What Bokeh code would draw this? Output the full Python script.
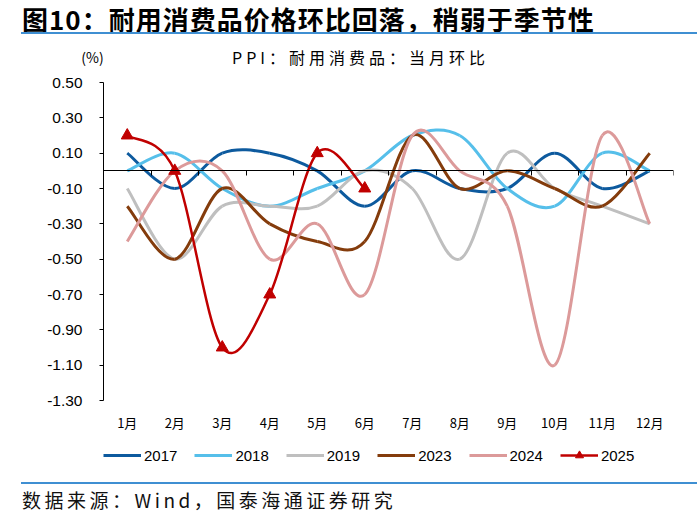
from bokeh.plotting import figure
from bokeh.layouts import column
from bokeh.models import (ColumnDataSource, FixedTicker, LinearAxis, Legend, LegendItem,
                          Range1d, NumeralTickFormatter, Div)
from bokeh.embed import file_html
from bokeh.resources import INLINE

months = ["1月", "2月", "3月", "4月", "5月", "6月", "7月", "8月", "9月", "10月", "11月", "12月"]
month_pos = [1, 2, 3, 4, 5, 6, 7, 8, 9, 10, 11, 12]
y_ticks = [0.5, 0.3, 0.1, -0.1, -0.3, -0.5, -0.7, -0.9, -1.1, -1.3]
sep_ticks = [0.5, 1.5, 2.5, 3.5, 4.5, 5.5, 6.5, 7.5, 8.5, 9.5, 10.5, 11.5, 12.5]
Y_TOP, Y_BOTTOM = 0.5, -1.3

y2017 = [0.1, -0.1, 0.1, 0.1, 0.0, -0.2, 0.0, -0.1, -0.1, 0.1, -0.1, 0.0]
y2018 = [0.0, 0.1, -0.1, -0.2, -0.1, 0.0, 0.2, 0.2, -0.1, -0.2, 0.1, 0.0]
y2019 = [-0.1, -0.5, -0.2, -0.2, -0.2, 0.0, -0.1, -0.5, 0.1, -0.1, -0.2, -0.3]
y2023 = [-0.2, -0.5, -0.1, -0.3, -0.4, -0.4, 0.2, -0.1, 0.0, -0.1, -0.2, 0.1]
y2024 = [-0.4, 0.0, 0.0, -0.5, -0.3, -0.7, 0.2, 0.0, -0.2, -1.1, 0.2, -0.3]
y2025 = [0.2, 0.0, -1.0, -0.7, 0.1, -0.1]

series = [
    ("2017", y2017, "#0d5a9e", 3),
    ("2018", y2018, "#56bfea", 3),
    ("2019", y2019, "#bfbfbf", 3),
    ("2023", y2023, "#843c0c", 3),
    ("2024", y2024, "#dc9a9a", 3),
    ("2025", y2025, "#c00000", 2.5),
]

title_text = "图10：耐用消费品价格环比回落，稍弱于季节性"
subtitle_text = "PPI：耐用消费品：当月环比"
unit_text = "(%)"
source_text = "数据来源：Wind，国泰海通证券研究"

RULE = "#3f8fd2"
FONT = "'Noto Sans CJK SC', sans-serif"

# layout geometry (pixels)
CHART_H = 318          # pixel height of the value axis (0.50 .. -1.30)
FRAME_H = 388          # frame also holds month labels and legend
MONTH_AXIS_PX = 345    # month label axis line, px below frame top
px_per_unit = CHART_H / (Y_TOP - Y_BOTTOM)
y_lo = Y_TOP - FRAME_H / px_per_unit
month_axis_y = Y_TOP - MONTH_AXIS_PX / px_per_unit


def smooth_segments(vals):
    n = len(vals)
    xs = month_pos[:n]
    d = dict(x0=[], y0=[], x1=[], y1=[], cx0=[], cy0=[], cx1=[], cy1=[])
    for i in range(n - 1):
        ip = max(i - 1, 0)
        inx = min(i + 2, n - 1)
        d["x0"].append(xs[i]); d["y0"].append(vals[i])
        d["x1"].append(xs[i + 1]); d["y1"].append(vals[i + 1])
        d["cx0"].append(xs[i] + (xs[i + 1] - xs[ip]) / 6.0)
        d["cy0"].append(vals[i] + (vals[i + 1] - vals[ip]) / 6.0)
        d["cx1"].append(xs[i + 1] - (xs[inx] - xs[i]) / 6.0)
        d["cy1"].append(vals[i + 1] - (vals[inx] - vals[i]) / 6.0)
    return ColumnDataSource(d)


header = Div(width=700, height=70, margin=0, text=f"""<div style="position:relative;width:700px;height:70px;background:#ffffff;font-family:{FONT};color:#000;"><div style="position:absolute;left:22px;top:0px;height:38px;line-height:38px;font-size:26px;font-weight:bold;letter-spacing:1px;white-space:nowrap;">{title_text}</div><div style="position:absolute;left:21px;top:32px;width:676px;height:2.4px;background:{RULE};"></div><div style="position:absolute;left:72px;top:45px;width:41px;text-align:center;height:24px;line-height:24px;font-size:14px;white-space:nowrap;">{unit_text}</div><div style="position:absolute;left:232px;top:45px;height:24px;line-height:24px;font-size:16px;letter-spacing:4px;white-space:nowrap;">{subtitle_text}</div></div>""")

footer = Div(width=700, height=40, margin=0, text=f"""<div style="position:relative;width:700px;height:40px;background:#ffffff;font-family:{FONT};color:#111;"><div style="position:absolute;left:21px;top:5.5px;width:676px;height:2.4px;background:{RULE};"></div><div style="position:absolute;left:22px;top:10px;height:28px;line-height:28px;font-size:19px;letter-spacing:3.5px;white-space:nowrap;">{source_text}</div></div>""")

p = figure(width=700, height=406, output_backend="svg", toolbar_location=None,
           x_range=Range1d(0.5, 12.5), y_range=Range1d(y_lo, Y_TOP),
           min_border_left=103, min_border_right=27, min_border_top=12, min_border_bottom=6,
           x_axis_location=None, y_axis_location=None, margin=0)
p.grid.visible = False
p.outline_line_color = None
p.background_fill_color = "white"
p.border_fill_color = "white"

# y axis (line limited to the value range)
yax = LinearAxis(ticker=FixedTicker(ticks=y_ticks), formatter=NumeralTickFormatter(format="0.00"),
                 bounds=(Y_BOTTOM, Y_TOP))
yax.axis_line_color = "black"
yax.major_tick_line_color = "black"
yax.major_tick_in = 0
yax.major_tick_out = 4
yax.minor_tick_line_color = None
yax.major_label_standoff = 17
yax.major_label_text_font = "Liberation Sans"
yax.major_label_text_font_size = "15.5px"
yax.major_label_text_color = "#000000"
p.add_layout(yax, "left")

# month labels: an axis fixed inside the frame, labels pulled up above its line
xax = LinearAxis(ticker=FixedTicker(ticks=month_pos), fixed_location=month_axis_y,
                 major_label_overrides={m: t for m, t in zip(month_pos, months)})
xax.axis_line_color = None
xax.major_tick_line_color = None
xax.major_tick_out = 0
xax.major_tick_in = 0
xax.minor_tick_line_color = None
xax.major_label_standoff = -15
xax.major_label_text_font = "Noto Sans CJK SC"
xax.major_label_text_font_size = "13px"
xax.major_label_text_color = "#000000"
p.add_layout(xax, "below")

# zero line axis with separator ticks (drawn at y=0, ticks pointing down)
zax = LinearAxis(ticker=FixedTicker(ticks=sep_ticks), fixed_location=0, bounds=(0.5, 12.5))
zax.axis_line_color = "black"
zax.axis_line_width = 1.2
zax.major_tick_line_color = "black"
zax.major_tick_in = 5
zax.major_tick_out = 0
zax.minor_tick_line_color = None
zax.major_label_standoff = 0
zax.major_label_text_font_size = "0px"
zax.major_label_text_color = None
p.add_layout(zax, "above")

legend_items = []
for name, vals, color, lw in series:
    src = smooth_segments(vals)
    p.bezier(x0="x0", y0="y0", x1="x1", y1="y1", cx0="cx0", cy0="cy0", cx1="cx1", cy1="cy1",
             source=src, line_color=color, line_width=lw)
    # single-point line: draws nothing on the chart, supplies the legend swatch
    lr = p.line(x=month_pos[:1], y=vals[:1], line_color=color, line_width=lw)
    rends = [lr]
    if name == "2025":
        sr = p.scatter(x=month_pos[:len(vals)], y=vals, marker="triangle", size=12,
                       fill_color=color, line_color=color)
        rends.append(sr)
    legend_items.append(LegendItem(label=name, renderers=rends))

legend = Legend(items=legend_items, orientation="horizontal", location=(0, 5),
                glyph_width=38, glyph_height=20, label_height=20, label_standoff=3, spacing=17,
                padding=0, margin=0, border_line_color=None, background_fill_alpha=0,
                label_text_font="Liberation Sans", label_text_font_size="15px",
                label_text_color="#000000")
p.add_layout(legend, "center")

layout = column(header, p, footer, spacing=0)
open("out.html", "w").write(file_html(layout, INLINE))
